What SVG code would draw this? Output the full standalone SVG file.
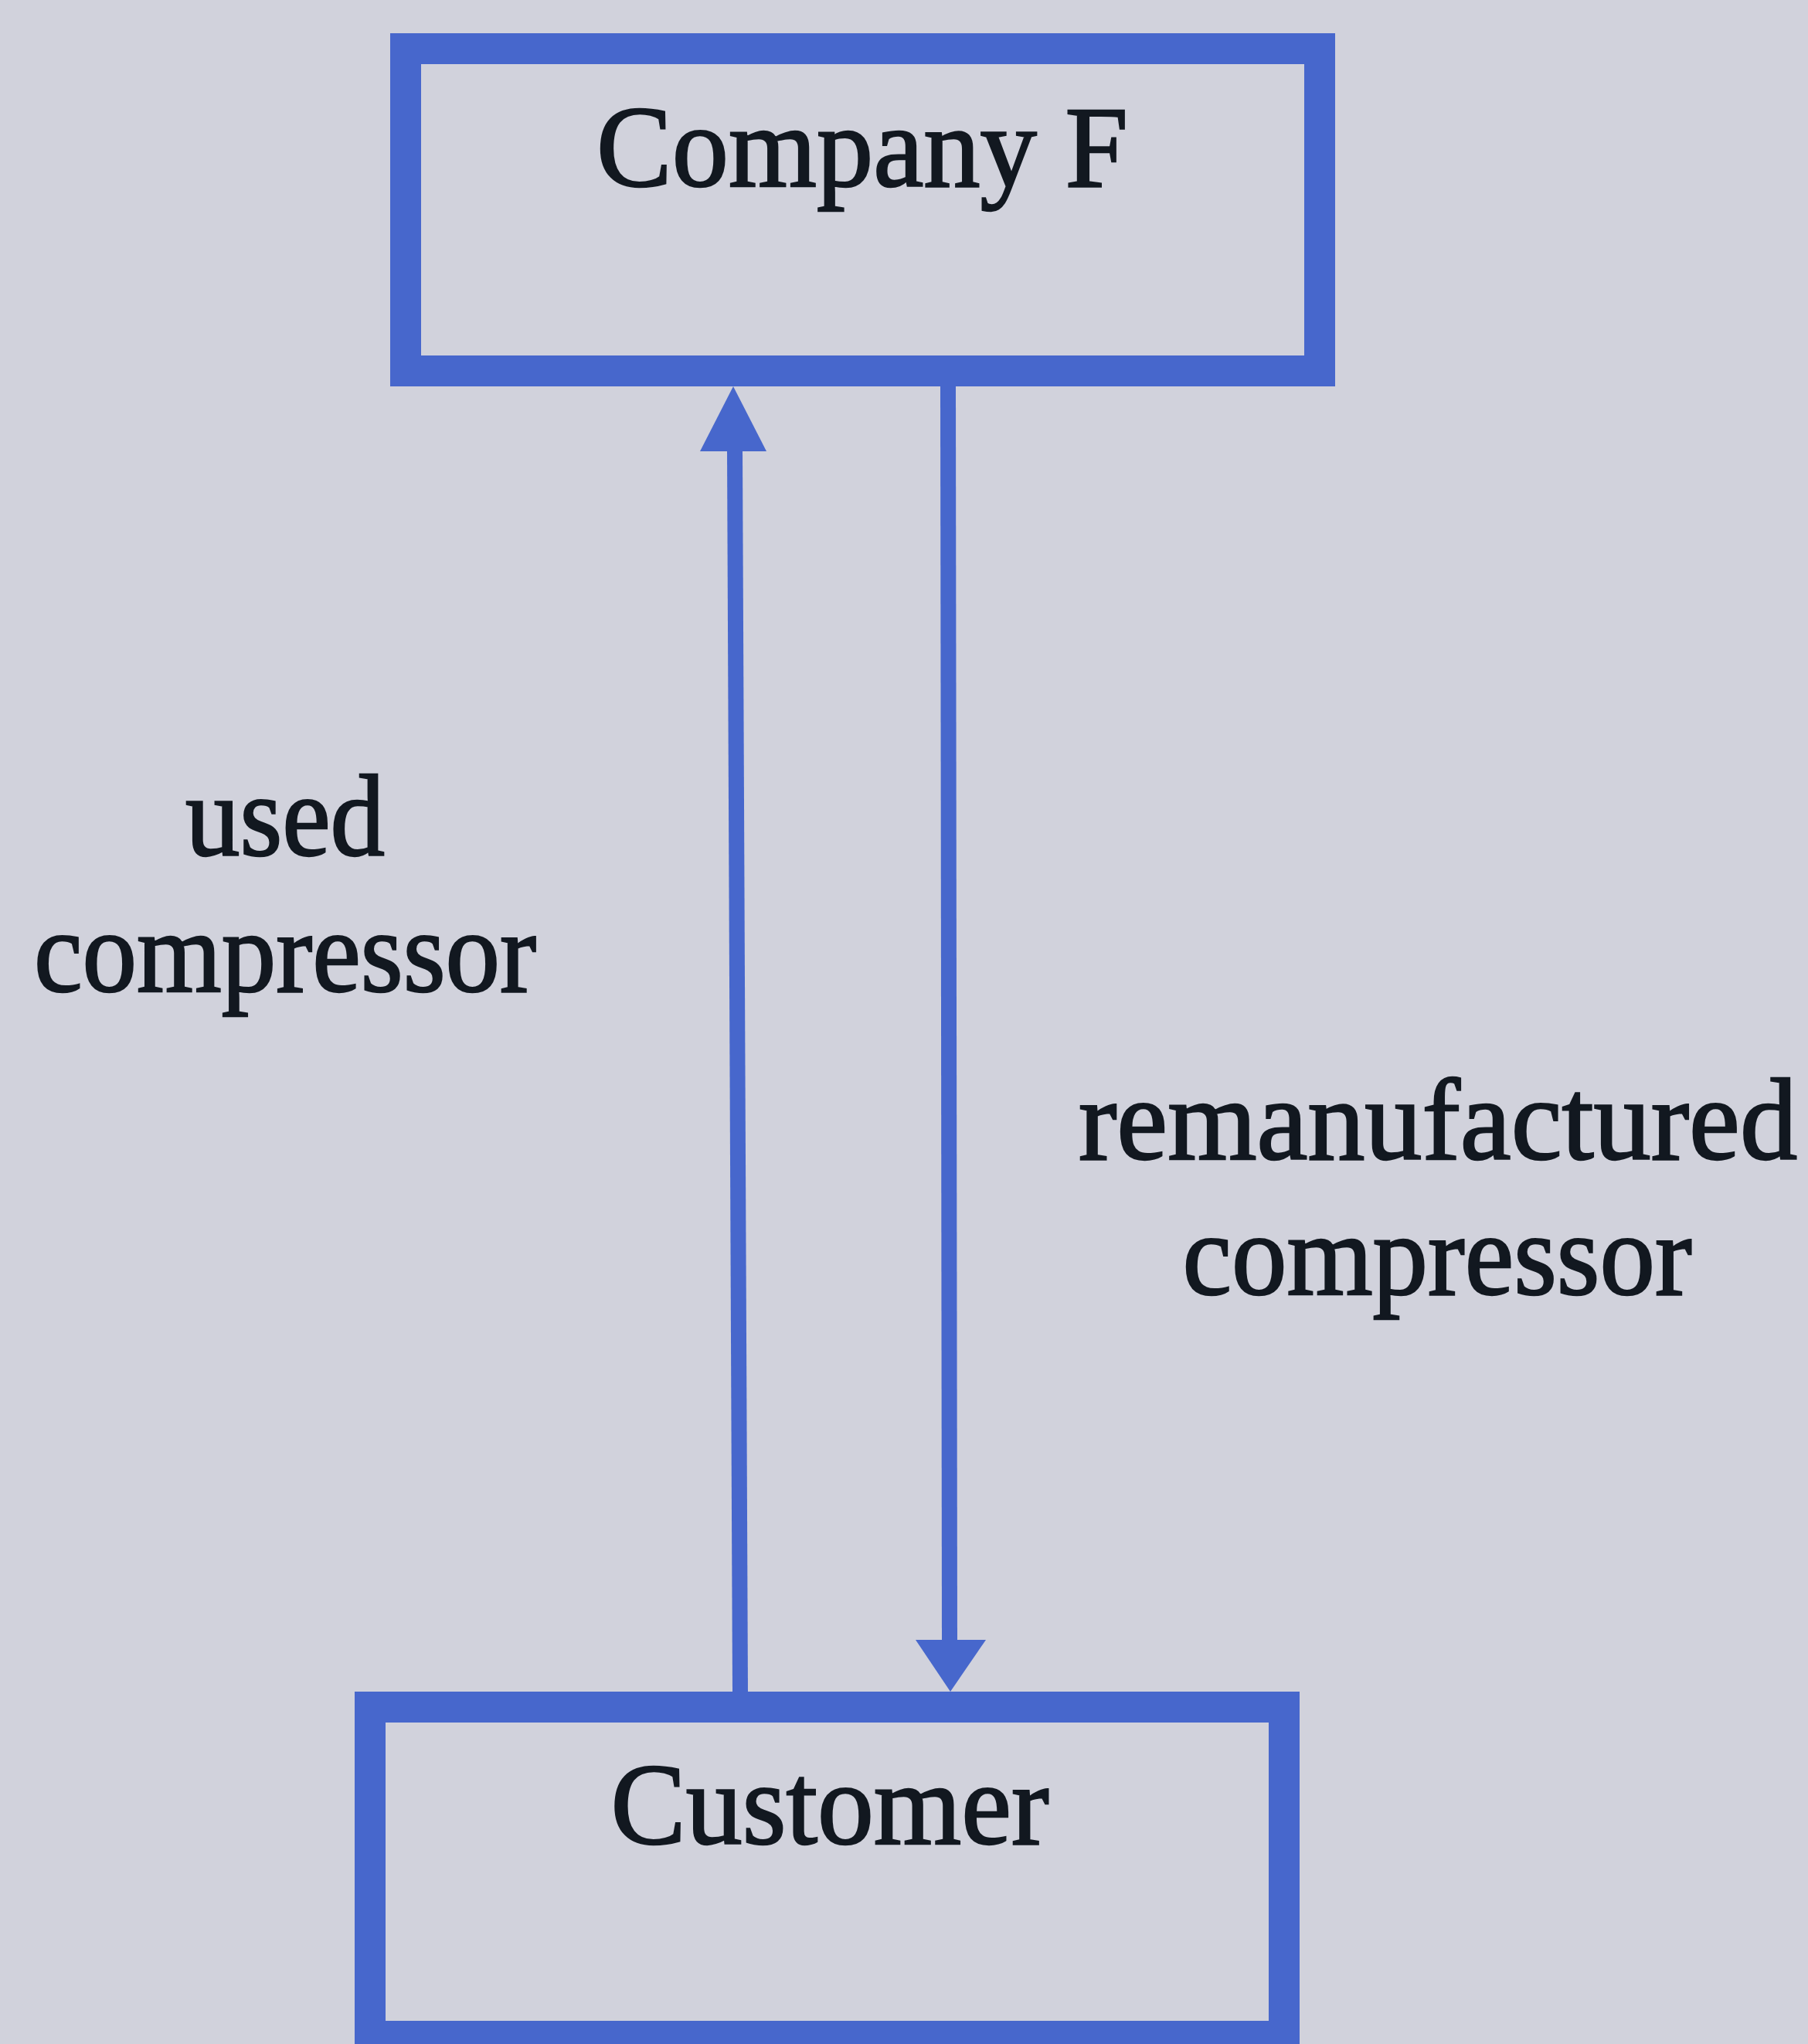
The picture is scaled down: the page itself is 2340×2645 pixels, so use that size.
<svg xmlns="http://www.w3.org/2000/svg" width="2340" height="2645" viewBox="0 0 2340 2645">
<style>
.box{fill:none;stroke:#4767cc;stroke-width:40}
.edge{fill:none;stroke:#4767cc;stroke-width:20}
.head{fill:#4767cc}
.t{font-family:"Liberation Serif","Times New Roman",serif;font-size:150px;fill:#121820;stroke:#121820;stroke-width:2.5px;text-anchor:middle}
</style>
<rect width="2340" height="2645" fill="#d1d2dc"/>
<g id="company-f">
<rect class="box" x="525" y="63" width="1183" height="417"/>
<text class="t" x="1116" y="241" textLength="688" lengthAdjust="spacingAndGlyphs">Company F</text>
</g>
<g id="customer">
<rect class="box" x="479" y="2209" width="1183" height="426"/>
<text class="t" x="1074" y="2386" textLength="567" lengthAdjust="spacingAndGlyphs">Customer</text>
</g>
<g id="connectors">
<g id="used-compressor">
<line class="edge" x1="958" y1="2190" x2="951" y2="580"/>
<polygon class="head" points="949,500 992,584 906,584"/>
<text class="t" x="369" y="1107" textLength="258" lengthAdjust="spacingAndGlyphs">used</text>
<text class="t" x="369" y="1283" textLength="650" lengthAdjust="spacingAndGlyphs">compressor</text>
</g>
<g id="remanufactured-compressor">
<line class="edge" x1="1227" y1="500" x2="1229" y2="2126"/>
<polygon class="head" points="1185,2122 1276,2122 1230,2189"/>
<text class="t" x="1861" y="1500" textLength="930" lengthAdjust="spacingAndGlyphs">remanufactured</text>
<text class="t" x="1860" y="1675" textLength="659" lengthAdjust="spacingAndGlyphs">compressor</text>
</g>
</g>
</svg>
